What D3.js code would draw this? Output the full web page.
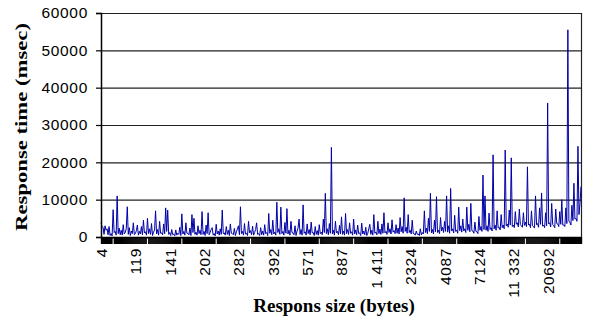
<!DOCTYPE html>
<html>
<head>
<meta charset="utf-8">
<script src="https://cdn.jsdelivr.net/npm/d3@7"></script>
<style>
  html, body { margin: 0; padding: 0; background: #fff; }
  svg { display: block; }
</style>
</head>
<body>
<svg id="chart" width="590" height="323"></svg>
<script>
// ---- data ----
const xLabels = ["4","119","141","202","282","392","571","887","1 411","2324","4087","7124","11 332","20692"];
const yTicks = [0, 10000, 20000, 30000, 40000, 50000, 60000];
const responseTime = [
  3800,2900,2600,700,3000,1800,2200,600,2800,400,900,300,7300,1200,1500,500,11000,900,2400,600,
  1800,500,3300,800,1200,2200,8100,700,2500,400,1600,900,3800,600,900,1700,3200,500,1500,800,
  2800,600,4500,1100,1400,500,5000,900,2200,700,3600,400,1300,1900,7000,800,2000,500,4200,1000,
  1100,600,3500,900,7800,1500,7200,700,1200,400,2000,600,800,300,1900,500,1000,700,2600,400,
  6200,800,1500,500,3800,1000,1000,600,2400,400,6000,1200,5000,700,1300,500,3000,900,1800,600,
  6800,700,1500,400,3200,900,6500,600,1200,2000,2500,500,900,300,3400,800,1600,500,2200,700,
  7200,900,1100,500,2800,700,1800,400,3500,1000,900,600,2300,400,1400,2100,3000,600,8100,900,
  1500,500,3600,800,1000,400,4200,1100,1700,600,2900,500,1200,2000,3800,700,900,400,2500,600,
  1600,500,3300,900,1200,400,6300,1000,2000,600,4500,800,1300,500,9300,1200,2200,700,8000,900,
  1500,500,3900,1000,7600,800,1800,500,4200,1200,1100,600,3000,400,1600,2400,4800,700,2000,500,
  8600,1000,1400,500,3500,900,2000,600,4000,1100,1200,400,2800,700,1700,500,3300,900,1300,600,
  4800,1200,11700,900,2200,600,3600,1000,24000,800,1800,500,4200,1100,1500,600,3100,800,5400,700,
  1600,500,6300,900,2000,700,3800,1000,1400,500,4800,800,1900,600,3200,900,1100,400,3700,800,
  1600,600,2600,400,1000,2200,3400,700,1800,500,6000,1000,1300,600,4200,900,2100,700,3500,1000,
  6500,1100,1500,700,3800,1200,2200,800,4600,1300,1700,900,3300,1000,2400,800,5200,1400,2800,1000,
  10500,1500,2600,1000,6000,1200,1800,800,4500,900,900,500,1600,700,800,400,2200,600,1200,800,
  7000,1200,2400,900,5000,1500,11700,1100,2000,800,4500,1400,10800,1200,1800,900,5200,1600,2600,1200,
  4200,1500,11000,1300,3000,1000,13000,1600,2200,1100,5800,1500,1800,1000,8000,1700,3000,1300,4800,1600,
  2200,1200,8000,1800,3400,1400,9000,1700,1600,1000,4000,1500,1400,900,5500,1800,2800,1500,16600,2000,
  11000,1800,3000,1500,6400,2000,2500,1600,22000,2200,3200,1800,7000,2400,2600,1900,6000,2500,3200,2200,
  23300,3000,3500,2600,7200,3200,21200,2800,3200,2500,6800,3400,3800,2700,7500,3300,3000,2600,6500,3100,
  4000,2800,18800,3200,3500,2500,7000,3000,2800,2400,11000,3300,3600,2600,7800,3400,11800,2900,3200,2500,
  6500,3000,35900,3500,3800,2700,9000,3300,3000,2500,7500,3600,3500,2800,6800,3400,10000,3200,3200,2800,
  7800,3600,55500,4200,4000,3200,8500,4400,14400,4800,5000,4200,24300,6000,9000,13500
];
const labelEvery = 34;

// ---- layout ----
const svg = d3.select("#chart");
const L = 101, R = 581, T = 13, B = 237;
const numFont = "'Liberation Sans', Arial, sans-serif";
const titleFont = "'Liberation Serif', 'Times New Roman', serif";

const idx = d3.range(responseTime.length);
const x = d3.scalePoint().domain(idx).range([L, R]);
const y = d3.scaleLinear().domain([0, 60000]).range([B, T]);

// gridlines
svg.append("g").selectAll("line").data(yTicks).join("line")
  .attr("x1", L).attr("x2", R)
  .attr("y1", d => y(d) + 0.5).attr("y2", d => y(d) + 0.5)
  .attr("stroke", "#222").attr("stroke-width", 1.2);

// right border
svg.append("line").attr("x1", R + 0.5).attr("x2", R + 0.5).attr("y1", T).attr("y2", B)
  .attr("stroke", "#222").attr("stroke-width", 1.2);

// data line
svg.append("path").datum(responseTime)
  .attr("fill", "none").attr("stroke", "#0000a8").attr("stroke-width", 1)
  .attr("stroke-linejoin", "miter")
  .attr("d", d3.line().x((d, i) => x(i)).y(d => y(d)));

// x axis dense tick band
const band = svg.append("g").attr("transform", `translate(0,${B})`)
  .call(d3.axisBottom(x).tickValues(idx).tickSize(7).tickSizeOuter(0).tickFormat(() => ""));
band.select(".domain").attr("stroke", "#000").attr("stroke-width", 1.5);
band.selectAll(".tick line").attr("stroke", "#000").attr("stroke-width", 1.4);

// white gaps in the band
const gapIdx = xLabels.map((_, m) => m * labelEvery + 12);
svg.append("g").selectAll("line").data(gapIdx).join("line")
  .attr("x1", d => x(d)).attr("x2", d => x(d))
  .attr("y1", B + 1.5).attr("y2", B + 7)
  .attr("stroke", "#fff").attr("stroke-width", 1);

// x axis labels
const labelIdx = xLabels.map((_, m) => m * labelEvery);
const xl = svg.append("g").attr("transform", `translate(0,${B})`)
  .call(d3.axisBottom(x).tickValues(labelIdx).tickSize(0)
    .tickFormat(i => xLabels[i / labelEvery]));
xl.select(".domain").remove();
xl.selectAll("text")
  .attr("font-family", numFont).attr("font-size", "15.5px").attr("fill", "#000")
  .attr("letter-spacing", "0.6px")
  .attr("text-anchor", "end")
  .attr("transform", "rotate(-90)")
  .attr("x", -11).attr("y", 0).attr("dy", "0.35em");

// y axis
const ya = svg.append("g").attr("transform", `translate(${L},0)`)
  .call(d3.axisLeft(y).tickValues(yTicks).tickSize(5).tickPadding(8).tickFormat(d3.format("d")));
ya.select(".domain").attr("stroke", "#000").attr("stroke-width", 1.5);
ya.selectAll(".tick line").attr("stroke", "#000").attr("stroke-width", 1.2);
ya.selectAll("text").attr("font-family", numFont).attr("font-size", "15.5px")
  .attr("letter-spacing", "0.7px").attr("fill", "#000");

// axis titles
svg.append("text").attr("x", 334).attr("y", 312)
  .attr("text-anchor", "middle").attr("font-family", titleFont)
  .attr("font-weight", "bold").attr("font-size", "19px").attr("fill", "#000")
  .text("Respons size (bytes)");

svg.append("text")
  .attr("transform", "translate(27,127) rotate(-90)")
  .attr("text-anchor", "middle").attr("font-family", titleFont)
  .attr("font-weight", "bold").attr("font-size", "17px").attr("fill", "#000")
  .attr("textLength", 208).attr("lengthAdjust", "spacingAndGlyphs")
  .text("Response time (msec)");
</script>
</body>
</html>
